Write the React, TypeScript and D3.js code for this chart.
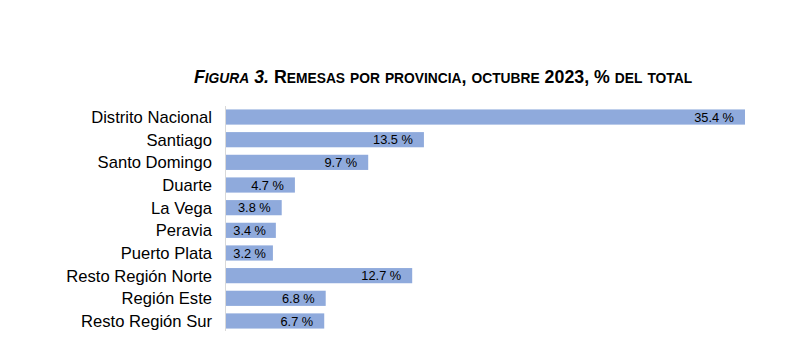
import React, { useEffect, useRef } from "react";
import * as d3 from "d3";

const categories = [
  "Distrito Nacional",
  "Santiago",
  "Santo Domingo",
  "Duarte",
  "La Vega",
  "Peravia",
  "Puerto Plata",
  "Resto Región Norte",
  "Región Este",
  "Resto Región Sur",
];
const values = [35.4, 13.5, 9.7, 4.7, 3.8, 3.4, 3.2, 12.7, 6.8, 6.7];

const W = 793;
const H = 351;
const FONT = "'Liberation Sans', Arial, sans-serif";

// title pieces: [text, italic]; small caps are done by hand below
const titleParts: [string, boolean][] = [
  ["Figura 3.", true],
  [" Remesas por provincia, octubre 2023, % del total", false],
];

const App = () => {
  const svgRef = useRef<SVGSVGElement>(null);

  useEffect(() => {
    const svg = d3.select(svgRef.current);
    svg.selectAll("*").remove();

    const x0 = 226;
    const x = d3.scaleLinear().domain([0, 35.4]).range([x0, 745]);
    const y = d3
      .scaleBand<string>()
      .domain(categories)
      .range([105.7, 332.3])
      .paddingInner(0.33)
      .paddingOuter(0.165);

    // title with hand made small caps
    const title = svg
      .append("text")
      .attr("x", 443)
      .attr("y", 83)
      .attr("text-anchor", "middle")
      .attr("font-family", FONT)
      .attr("font-weight", "bold")
      .attr("fill", "#000");
    titleParts.forEach(([txt, italic]) => {
      // split into runs of lowercase vs other
      const runs = txt.match(/[a-záéíóúñ]+|[^a-záéíóúñ]+/g) || [];
      runs.forEach((r) => {
        const lower = /[a-záéíóúñ]/.test(r[0]);
        title
          .append("tspan")
          .attr("font-size", lower ? 13.8 : 17.8)
          .attr("font-style", italic ? "italic" : "normal")
          .text(lower ? r.toUpperCase() : r);
      });
    });

    // axis line
    svg
      .append("line")
      .attr("x1", x0 - 0.5)
      .attr("x2", x0 - 0.5)
      .attr("y1", 106)
      .attr("y2", 331)
      .attr("stroke", "#d9d9d9")
      .attr("stroke-width", 1);

    const rows = svg
      .selectAll("g.row")
      .data(categories)
      .enter()
      .append("g")
      .attr("class", "row");

    rows
      .append("rect")
      .attr("x", x0)
      .attr("y", (d) => y(d)!)
      .attr("width", (d, i) => x(values[i]) - x0)
      .attr("height", y.bandwidth())
      .attr("fill", "#8faadc");

    rows
      .append("text")
      .attr("x", 212)
      .attr("y", (d) => y(d)! + y.bandwidth() / 2)
      .attr("dy", "0.36em")
      .attr("text-anchor", "end")
      .attr("font-family", FONT)
      .attr("font-size", 16.6)
      .attr("fill", "#000")
      .text((d) => d);

    rows
      .append("text")
      .attr("x", (d, i) => Math.max(x(values[i]) - 11, x0 + 40))
      .attr("y", (d) => y(d)! + y.bandwidth() / 2)
      .attr("dy", "0.36em")
      .attr("text-anchor", "end")
      .attr("font-family", FONT)
      .attr("font-size", 12.8)
      .attr("fill", "#000")
      .text((d, i) => `${values[i].toFixed(1)} %`);
  }, []);

  return (
    <div style={{ position: "absolute", left: 0, top: 0, background: "#fff" }}>
      <svg ref={svgRef} width={W} height={H} style={{ display: "block" }}></svg>
    </div>
  );
};

export default App;
